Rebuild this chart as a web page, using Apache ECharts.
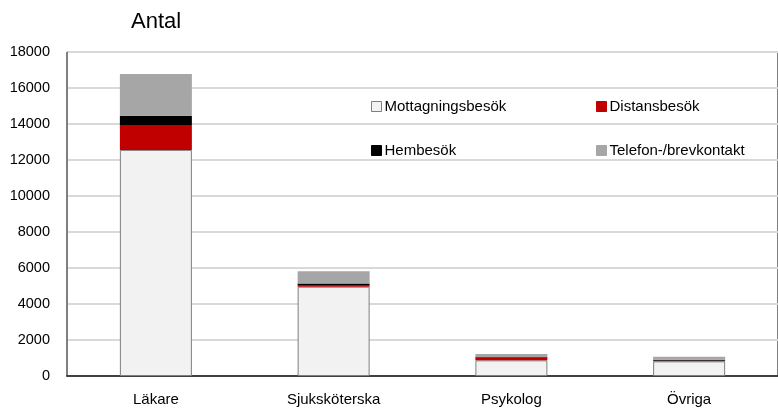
<!DOCTYPE html>
<html>
<head>
<meta charset="utf-8">
<script src="https://cdn.jsdelivr.net/npm/echarts@6/dist/echarts.min.js"></script>
<style>
  html, body { margin: 0; padding: 0; background: #ffffff; }
  #chart { width: 778px; height: 411px; }
</style>
</head>
<body>
<div id="chart"></div>
<script>
// Besök per yrkeskategori, uppdelat på kontakttyp
const categories = ['Läkare', 'Sjuksköterska', 'Psykolog', 'Övriga'];
const mottagningsbesok = [12560, 4960, 870, 815];
const distansbesok = [1390, 90, 170, 30];
const hembesok = [510, 90, 10, 60];
const telefonBrev = [2320, 680, 170, 170];
const yTicks = [0, 2000, 4000, 6000, 8000, 10000, 12000, 14000, 16000, 18000];

const FONT = '"Liberation Sans", Arial, sans-serif';

const chart = echarts.init(document.getElementById('chart'), null, { renderer: 'canvas' });

function stackSeries(name, data, color, border) {
  return {
    name: name,
    type: 'bar',
    stack: 'total',
    data: data,
    barWidth: 72,
    itemStyle: {
      color: color,
      borderColor: border || color,
      borderWidth: border ? 1 : 0
    },
    emphasis: { disabled: true }
  };
}

const legendText = { fontFamily: FONT, fontSize: 15, color: '#000', padding: [0, 0, 0, -2] };

const legendBase = {
  orient: 'vertical',
  top: 94,
  itemGap: 29,
  itemWidth: 10,
  itemHeight: 10,
  icon: 'rect',
  itemStyle: { borderWidth: 1 },
  textStyle: legendText
};

chart.setOption({
  animation: false,
  backgroundColor: '#ffffff',
  title: {
    text: 'Antal',
    left: 126,
    top: 6,
    textStyle: { fontFamily: FONT, fontSize: 22, fontWeight: 'normal', color: '#000' }
  },
  legend: [
    Object.assign({ data: ['Mottagningsbesök', 'Hembesök'], left: 366 }, legendBase),
    Object.assign({ data: ['Distansbesök', 'Telefon-/brevkontakt'], left: 591 }, legendBase)
  ],
  grid: {
    left: 67,
    top: 52,
    width: 720,
    height: 324,
    show: true,
    borderColor: '#000',
    borderWidth: 1
  },
  xAxis: {
    type: 'category',
    data: categories,
    axisLine: { show: true, lineStyle: { color: '#404040', width: 2 } },
    axisTick: { show: false },
    axisLabel: { fontFamily: FONT, fontSize: 15, color: '#000', margin: 16 }
  },
  yAxis: {
    type: 'value',
    min: yTicks[0],
    max: yTicks[yTicks.length - 1],
    interval: 2000,
    axisLine: { show: true, lineStyle: { color: '#808080', width: 1 } },
    axisTick: { show: false },
    axisLabel: {
      fontFamily: FONT, fontSize: 14.5, color: '#000', margin: 17,
      formatter: function (v) { return String(v); }
    },
    splitLine: { show: true, lineStyle: { color: '#d9d9d9', width: 2 } }
  },
  series: [
    stackSeries('Mottagningsbesök', mottagningsbesok, '#f2f2f2', '#7f7f7f'),
    stackSeries('Distansbesök', distansbesok, '#c00000'),
    stackSeries('Hembesök', hembesok, '#000000'),
    stackSeries('Telefon-/brevkontakt', telefonBrev, '#a6a6a6')
  ]
});
</script>
</body>
</html>
